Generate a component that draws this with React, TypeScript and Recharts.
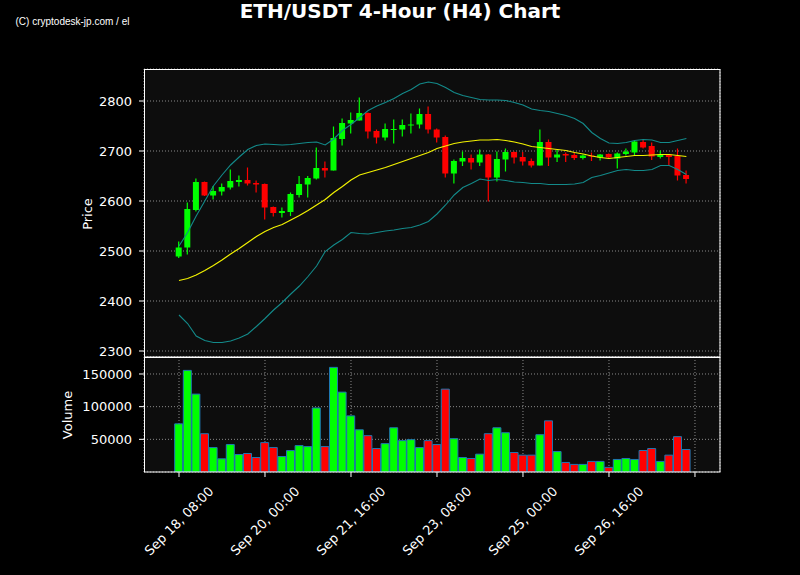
import React from 'react';
import { ComposedChart, Bar, Line, XAxis, YAxis, CartesianGrid, Cell } from 'recharts';

// ---------- data ----------
const opens = [
  2489, 2507, 2582, 2638, 2611, 2619, 2627, 2638, 2642, 2636,
  2634, 2588, 2576, 2578, 2612, 2633, 2645, 2666, 2661, 2724,
  2755, 2761, 2776, 2740, 2727, 2743, 2743, 2751, 2753, 2774,
  2743, 2728, 2655, 2679, 2686, 2677, 2693, 2647, 2683, 2698,
  2688, 2680, 2671, 2718, 2687, 2694, 2692, 2686, 2691, 2687,
  2694, 2685, 2694, 2697, 2718, 2710, 2688, 2693, 2690, 2652,
];
const highs = [
  2519, 2597, 2645, 2639, 2630, 2635, 2663, 2651, 2667, 2641,
  2635, 2589, 2587, 2617, 2650, 2650, 2707, 2679, 2749, 2765,
  2777, 2807, 2777, 2743, 2755, 2763, 2763, 2775, 2785, 2789,
  2745, 2731, 2683, 2699, 2693, 2703, 2694, 2699, 2705, 2699,
  2698, 2685, 2743, 2723, 2702, 2697, 2697, 2693, 2697, 2694,
  2695, 2697, 2705, 2722, 2723, 2717, 2701, 2694, 2705, 2661,
];
const lows = [
  2486, 2493, 2579, 2610, 2603, 2611, 2623, 2629, 2631, 2617,
  2563, 2569, 2567, 2570, 2607, 2607, 2643, 2647, 2661, 2711,
  2735, 2761, 2725, 2715, 2721, 2715, 2729, 2735, 2745, 2735,
  2717, 2647, 2635, 2670, 2663, 2670, 2599, 2639, 2659, 2675,
  2671, 2667, 2671, 2670, 2678, 2678, 2682, 2683, 2680, 2681,
  2685, 2665, 2691, 2691, 2705, 2682, 2685, 2670, 2641, 2635,
];
const closes = [
  2507, 2584, 2638, 2611, 2620, 2628, 2640, 2642, 2635, 2633,
  2587, 2576, 2580, 2614, 2634, 2646, 2666, 2661, 2726, 2756,
  2762, 2776, 2739, 2727, 2744, 2744, 2752, 2753, 2774, 2743,
  2727, 2655, 2680, 2686, 2677, 2693, 2647, 2684, 2698, 2687,
  2679, 2671, 2718, 2687, 2693, 2691, 2686, 2691, 2689, 2693,
  2687, 2695, 2699, 2719, 2707, 2689, 2693, 2688, 2651, 2644,
];
const volumes = [
  73700, 155500, 119200, 58600, 37400, 20200, 42000, 26800, 28300, 22200,
  45000, 37400, 23700, 32800, 40400, 38900, 98000, 38900, 160100, 122200,
  85900, 64600, 55600, 35900, 43400, 67700, 48000, 49500, 37400, 48000,
  42000, 126800, 51000, 22200, 20700, 27300, 58600, 67700, 60100, 29800,
  25800, 25800, 57100, 78300, 31300, 14600, 11600, 11600, 16200, 16200,
  7100, 19200, 20700, 19200, 32900, 35900, 16200, 25800, 54100, 34400,
];
const smaLine = [
  2441, 2445, 2452, 2461, 2471, 2482, 2494, 2505, 2517, 2529,
  2539, 2547, 2553, 2562, 2571, 2581, 2592, 2603, 2617, 2629,
  2642, 2652, 2657, 2662, 2667, 2673, 2679, 2685, 2691, 2697,
  2705, 2710, 2715, 2718, 2720, 2722, 2722, 2723, 2721, 2718,
  2714, 2709, 2707, 2705, 2703, 2701, 2697, 2694, 2690, 2687,
  2685, 2687, 2689, 2691, 2691, 2692, 2693, 2693, 2691, 2689,
];
const upperBand = [
  2510, 2537, 2570, 2600, 2630, 2652, 2672, 2688, 2703, 2711,
  2714, 2713, 2712, 2713, 2715, 2717, 2718, 2712, 2724, 2741,
  2753, 2767, 2781, 2790, 2797, 2805, 2815, 2823, 2834, 2838,
  2835, 2827, 2817, 2811, 2807, 2803, 2802, 2802, 2801, 2797,
  2792, 2784, 2781, 2779, 2775, 2771, 2765, 2755, 2737, 2725,
  2716, 2715, 2717, 2721, 2723, 2722, 2717, 2717, 2721, 2725,
];
const lowerBand = [
  2372, 2355, 2330, 2321, 2317, 2317, 2320, 2326, 2334, 2349,
  2365, 2382, 2397, 2414, 2430, 2449, 2470, 2499, 2512, 2523,
  2537, 2535, 2534, 2537, 2540, 2542, 2545, 2547, 2552, 2559,
  2574, 2592, 2612, 2627, 2635, 2644, 2641, 2643, 2641, 2638,
  2637, 2635, 2635, 2633, 2633, 2633, 2634, 2637, 2647, 2651,
  2656, 2661, 2663, 2661, 2661, 2663, 2671, 2671, 2663, 2653,
];
const xTickIndex = [0, 10, 20, 30, 40, 50, 60];
const xTickLabels = [
  'Sep 18, 08:00', 'Sep 20, 00:00', 'Sep 21, 16:00', 'Sep 23, 08:00',
  'Sep 25, 00:00', 'Sep 26, 16:00', '',
];
const priceTicks = [2300, 2400, 2500, 2600, 2700, 2800];
const volumeTicks = [50000, 100000, 150000];
const priceDomain = [2288, 2864];
const volumeDomain = [0, 176000];
const xDomain = [-4.07, 62.91];

// ---------- styles / layout ----------
const W = 800;
const H = 575;
const LEFT = 144;
const RIGHT_M = 80;
const YW = 60;
const TOP = 69;
const SPLIT = 357;
const BOTTOM = 472;
const EXTRA = 14;
const GREEN = '#00ff00';
const RED = '#ff0000';
const BAND = '#138a8a';
const SMA_C = '#f2f200';
const GRID = '#8a8a8a';
const PANEL = '#0d0d0d';
const FONT = '"DejaVu Sans", Verdana, sans-serif';

const rows = opens.map((o, i) => ({
  idx: i,
  open: o,
  high: highs[i],
  low: lows[i],
  close: closes[i],
  volume: volumes[i],
  sma: smaLine[i],
  upper: upperBand[i],
  lower: lowerBand[i],
}));

const Candle = (props: any) => {
  const { x, y, width, height, payload } = props;
  if (!payload) return null;
  const top = Math.min(y, y + height);
  const h = Math.abs(height);
  const { open, close, high, low } = payload;
  const range = high - low || 1;
  const py = (v: number) => top + ((high - v) / range) * h;
  const cx = x + width / 2;
  const color = close >= open ? GREEN : RED;
  const bTop = py(Math.max(open, close));
  const bBot = py(Math.min(open, close));
  return (
    <g>
      <line x1={cx} x2={cx} y1={top} y2={top + h} stroke={color} strokeWidth={1.2} />
      <rect x={x} y={bTop} width={width} height={Math.max(bBot - bTop, 1)} fill={color} />
    </g>
  );
};

const XTick = (props: any) => {
  const { x, y, payload } = props;
  const k = xTickIndex.indexOf(payload.value);
  const label = k >= 0 ? xTickLabels[k] : '';
  if (!label) return null;
  const cy = y + 42;
  return (
    <text
      x={x}
      y={cy}
      fill="#ffffff"
      fontSize={13}
      fontFamily={FONT}
      textAnchor="middle"
      dominantBaseline="central"
      transform={`rotate(-45 ${x} ${cy})`}
    >
      {label}
    </text>
  );
};

const yTickStyle = { fill: '#ffffff', fontSize: 13, fontFamily: FONT };

export default function App() {
  return (
    <div style={{ position: 'absolute', left: 0, top: 0, width: W, height: H, background: '#000000', overflow: 'hidden' }}>
      <div style={{ position: 'absolute', left: 0, top: 0 }}>
        <ComposedChart
          width={W}
          height={SPLIT + EXTRA}
          data={rows}
          margin={{ top: TOP, right: RIGHT_M, bottom: EXTRA, left: LEFT - YW }}
        >
          <CartesianGrid
            stroke={GRID}
            strokeDasharray="1 2"
            fill={PANEL}
            fillOpacity={1}
          />
          <XAxis
            type="number"
            dataKey="idx"
            domain={xDomain}
            ticks={xTickIndex}
            allowDataOverflow
            tick={false}
            tickLine={false}
            axisLine={false}
            height={0}
            interval={0}
          />
          <YAxis
            type="number"
            domain={priceDomain}
            ticks={priceTicks}
            allowDataOverflow
            interval={0}
            width={YW}
            axisLine={false}
            tickLine={{ stroke: '#ffffff' }}
            tickSize={5}
            tickMargin={7}
            tick={yTickStyle}
          />
          <Line type="linear" dataKey="upper" stroke={BAND} strokeWidth={1.1} dot={false} isAnimationActive={false} />
          <Line type="linear" dataKey="lower" stroke={BAND} strokeWidth={1.1} dot={false} isAnimationActive={false} />
          <Line type="linear" dataKey="sma" stroke={SMA_C} strokeWidth={1.2} dot={false} isAnimationActive={false} />
          <Bar
            dataKey={(d: any) => [d.low, d.high]}
            barSize={6}
            shape={<Candle />}
            isAnimationActive={false}
          />
        </ComposedChart>
      </div>
      <div style={{ position: 'absolute', left: 0, top: 0 }}>
        <ComposedChart
          width={W}
          height={H}
          data={rows}
          margin={{ top: SPLIT, right: RIGHT_M, bottom: 0, left: LEFT - YW }}
        >
          <CartesianGrid stroke={GRID} strokeDasharray="1 2" fill={PANEL} fillOpacity={1} />
          <XAxis
            type="number"
            dataKey="idx"
            domain={xDomain}
            ticks={xTickIndex}
            allowDataOverflow
            height={H - BOTTOM}
            axisLine={false}
            tickLine={{ stroke: '#ffffff' }}
            tickSize={5}
            tick={<XTick />}
            interval={0}
          />
          <YAxis
            type="number"
            domain={volumeDomain}
            ticks={volumeTicks}
            allowDataOverflow
            interval={0}
            width={YW}
            axisLine={false}
            tickLine={{ stroke: '#ffffff' }}
            tickSize={5}
            tickMargin={7}
            tick={yTickStyle}
          />
          <Bar dataKey="volume" barSize={8} stroke="#1f77b4" strokeWidth={1} isAnimationActive={false}>
            {rows.map((r) => (
              <Cell key={r.idx} fill={r.close >= r.open ? GREEN : RED} />
            ))}
          </Bar>
        </ComposedChart>
      </div>
      <svg
        width={W}
        height={H}
        style={{ position: 'absolute', left: 0, top: 0, pointerEvents: 'none' }}
      >
        <rect x={LEFT + 0.5} y={TOP + 0.5} width={W - RIGHT_M - LEFT - 0.5} height={SPLIT - TOP - 0.5} fill="none" stroke="#ffffff" strokeWidth={1} />
        <rect x={LEFT + 0.5} y={SPLIT + 0.5} width={W - RIGHT_M - LEFT - 0.5} height={BOTTOM - SPLIT - 0.5} fill="none" stroke="#ffffff" strokeWidth={1} />
        <text x={400} y={18} fill="#ffffff" fontSize={20} fontWeight="bold" fontFamily={FONT} textAnchor="middle">
          ETH/USDT 4-Hour (H4) Chart
        </text>
        <text x={15.5} y={25} fill="#ffffff" fontSize={10} fontFamily='"Liberation Sans", Arial, sans-serif'>
          (C) cryptodesk-jp.com / el
        </text>
        <text x={87} y={214} fill="#ffffff" fontSize={13} fontFamily={FONT} textAnchor="middle" dominantBaseline="central" transform="rotate(-90 87 214)">
          Price
        </text>
        <text x={67} y={415} fill="#ffffff" fontSize={13} fontFamily={FONT} textAnchor="middle" dominantBaseline="central" transform="rotate(-90 67 415)">
          Volume
        </text>
      </svg>
    </div>
  );
}
